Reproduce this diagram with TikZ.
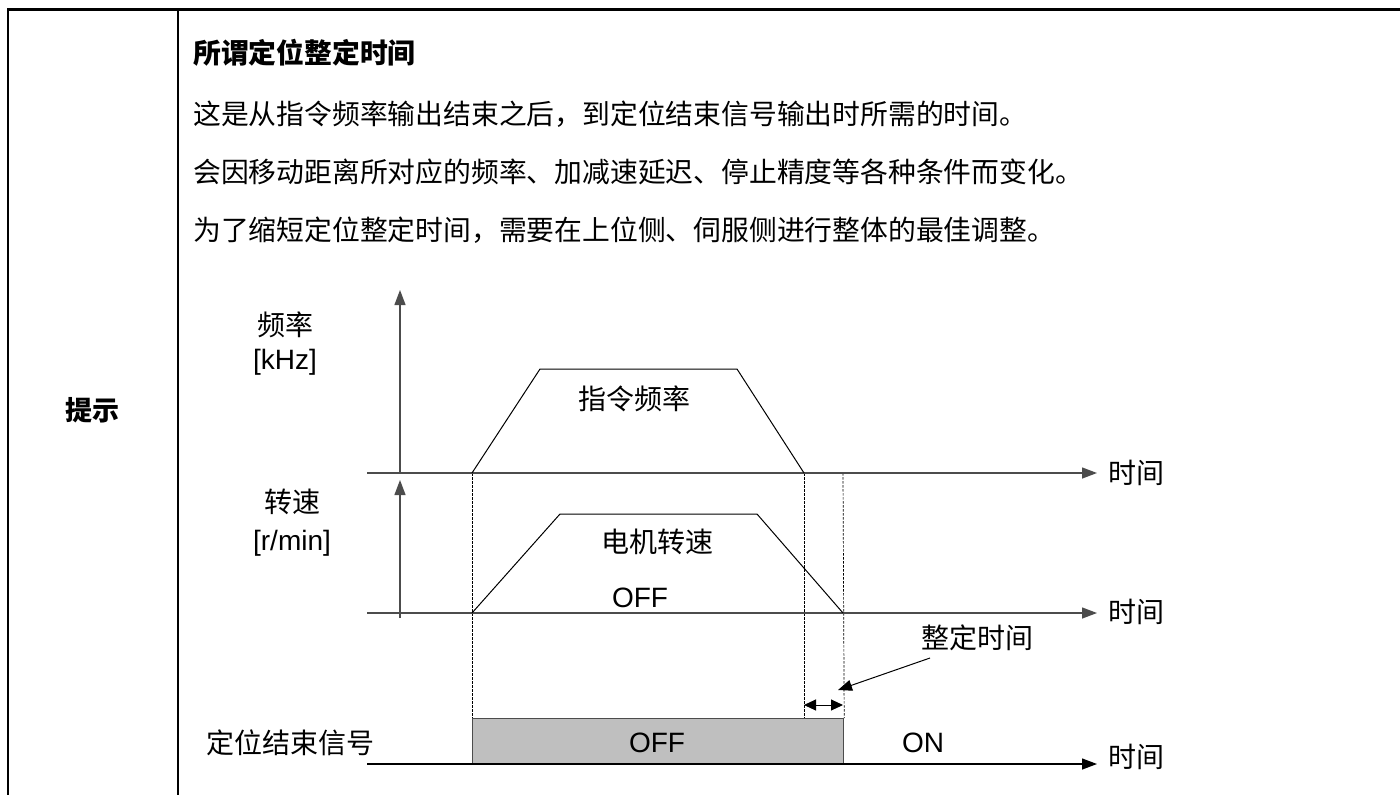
\documentclass[tikz,border=0pt]{standalone}
\usepackage{fontspec}
\setmainfont{Liberation Sans}
\newfontfamily\cjk{Noto Sans CJK SC}
\usetikzlibrary{arrows.meta}
\begin{document}
\begin{tikzpicture}[x=1pt,y=-1pt,
  body/.style={anchor=west,inner sep=0pt,font=\cjk\fontsize{27.8}{30}\selectfont},
  lbl/.style={inner sep=0pt,font=\cjk\fontsize{28}{32}\selectfont},
  lat/.style={inner sep=0pt,font=\fontsize{28}{32}\selectfont},
  axis/.style={draw=black!70,line width=1.3pt,-{Triangle[length=15pt,width=11pt]}},
  curve/.style={draw=black,line width=1pt},
  guide/.style={draw=black,line width=0.7pt,dash pattern=on 2.5pt off 1.5pt},
  frame/.style={draw=black,line width=2.2pt}
]
\useasboundingbox (0,0) rectangle (1400,795);
% table frame
\draw[draw=black,line width=3pt] (7,9) -- (1400,9);
\draw[frame] (8,8) -- (8,795);
\draw[frame] (178,8) -- (178,795);
% texts
\node[inner sep=0pt,font=\cjk\bfseries\fontsize{27}{30}\selectfont] (tishi) at (92,410) {提示};
\node[body,font=\cjk\bfseries\fontsize{27.8}{30}\selectfont] (title) at (193,53) {所谓定位整定时间};
\node[body] (l1) at (193,114) {这是从指令频率输出结束之后，到定位结束信号输出时所需的时间。};
\node[body] (l2) at (193,172) {会因移动距离所对应的频率、加减速延迟、停止精度等各种条件而变化。};
\node[body] (l3) at (193,230) {为了缩短定位整定时间，需要在上位侧、伺服侧进行整体的最佳调整。};
% coordinates
\coordinate (a1b) at (400,473);
\coordinate (a1t) at (400,290);
\coordinate (a2b) at (400,618);
\coordinate (a2t) at (400,480);
\coordinate (h1s) at (367,473);
\coordinate (h1e) at (1097,473);
\coordinate (h2s) at (367,613);
\coordinate (h2e) at (1097,613);
\coordinate (h3s) at (367,764);
\coordinate (h3e) at (1097,764);
\coordinate (f0) at (472,473);
\coordinate (f1) at (540,369);
\coordinate (f2) at (737,369);
\coordinate (f3) at (804,473);
\coordinate (m0) at (472,613);
\coordinate (m1) at (560,514);
\coordinate (m2) at (757,514);
\coordinate (m3) at (843,613);
% signal rectangle
\node[draw=black!70,line width=1.2pt,fill=black!25,minimum width=371pt,minimum height=46pt,inner sep=0pt,anchor=north west] (sig) at (472,718) {};
% guides
\draw[guide] (f0) -- (sig.north west);
\draw[guide] (f3) -- (804,718);
\draw[guide] (843,473) -- (sig.north east);
% axes
\draw[axis] (a1b) -- (a1t);
\draw[axis] (a2b) -- (a2t);
\draw[axis] (h1s) -- (h1e);
\draw[axis] (h2s) -- (h2e);
\draw[axis,draw=black] (h3s) -- (h3e);
% curves
\draw[curve] (f0) -- (f1) -- (f2) -- (f3);
\draw[curve] (m0) -- (m1) -- (m2) -- (m3);
% settling arrows
\coordinate (d1) at (804,705);
\coordinate (d2) at (843,705);
\draw[line width=1pt,{Triangle[length=12pt,width=11pt]}-{Triangle[length=12pt,width=11pt]}] (d1) -- (d2);
\node[lbl] (st) at (977,638) {整定时间};
\coordinate (stp) at (930,658);
\coordinate (stq) at (838,690);
\draw[line width=1pt,-{Triangle[length=14pt,width=11pt]}] (stp) -- (stq);
% labels
\node[lbl] (pl) at (285,325) {频率};
\node[lat] (pu) at (285,362) {[kHz]};
\node[lbl] (sl) at (292,502) {转速};
\node[lat] (su) at (292,543) {[r/min]};
\node[lbl] (cmd) at (634,399) {指令频率};
\node[lbl] (mot) at (657,542) {电机转速};
\node[lat] (off1) at (640,598) {OFF};
\node[lat] (off2) at (657,743) {OFF};
\node[lat] (on) at (923,743) {ON};
\node[lbl] (sigl) at (290,743) {定位结束信号};
\node[lbl,anchor=west] (t1) at (1108,473) {时间};
\node[lbl,anchor=west] (t2) at (1108,612) {时间};
\node[lbl,anchor=west] (t3) at (1108,757) {时间};
\end{tikzpicture}
\end{document}
